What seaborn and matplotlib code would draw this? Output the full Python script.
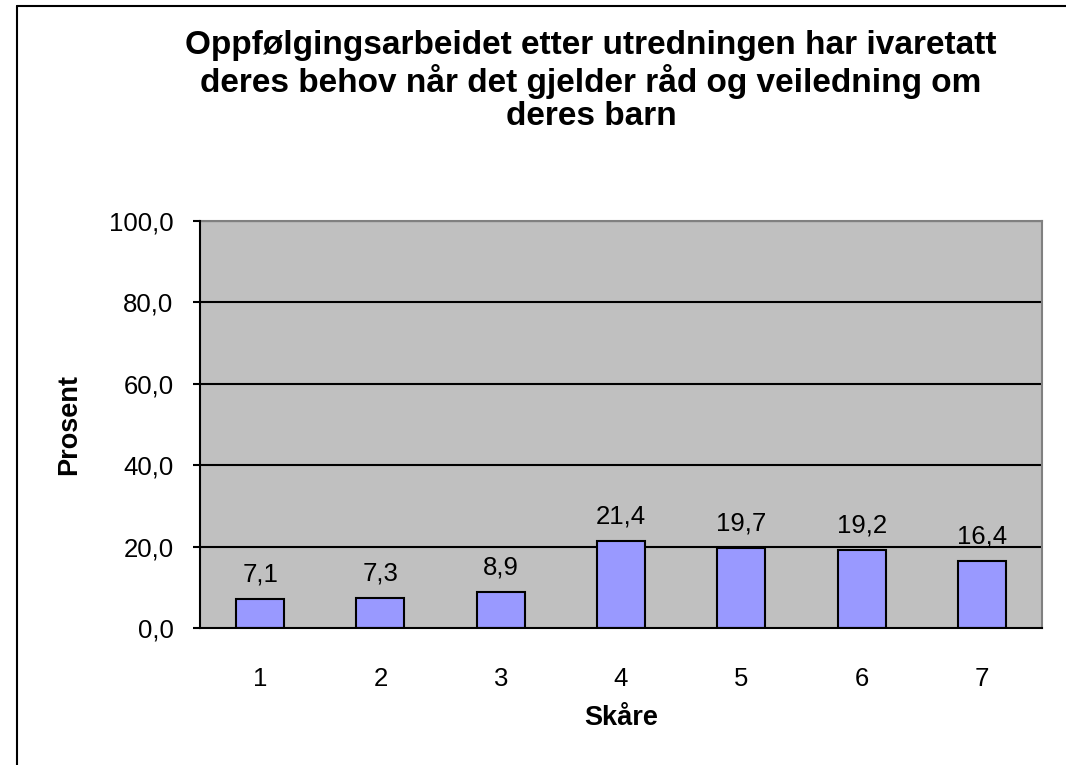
"""
Bar chart: Oppfølgingsarbeidet etter utredningen (Skåre vs Prosent)
"""

import matplotlib
matplotlib.use('Agg')
import matplotlib.pyplot as plt
import seaborn as sns
from matplotlib.lines import Line2D

# Data
categories = ['1', '2', '3', '4', '5', '6', '7']
values = [7.1, 7.3, 8.9, 21.4, 19.7, 19.2, 16.4]
y_ticks = [0, 20, 40, 60, 80, 100]

title = ('Oppfølgingsarbeidet etter utredningen har ivaretatt\n'
         'deres behov når det gjelder råd og veiledning om\n'
         'deres barn')

sns.set_style('white')
plt.rcParams['font.family'] = ['Liberation Sans', 'DejaVu Sans']
plt.rcParams['text.color'] = 'black'
plt.rcParams['axes.labelcolor'] = 'black'
plt.rcParams['xtick.color'] = 'black'
plt.rcParams['ytick.color'] = 'black'

TICK_FS = 18.5
LABEL_FS = 19.5

fig = plt.figure(figsize=(10.66, 7.65), dpi=100)
ax = fig.add_axes([200 / 1066, 1 - 628 / 765, (1042 - 200) / 1066, (628 - 221) / 765])
ax.set_facecolor('#C0C0C0')

sns.barplot(x=categories, y=values, color='#9999FF', saturation=1,
            edgecolor='black', linewidth=1.5, width=0.4, ax=ax, zorder=3)

# gridlines
for t in y_ticks[1:]:
    ax.axhline(t, color='black', linewidth=1.5, zorder=1)

ax.set_ylim(0, 100)
ax.set_xlim(-0.5, len(categories) - 0.5)
ax.set_yticks(y_ticks)
ax.set_yticklabels([f'{v:.1f}'.replace('.', ',') for v in y_ticks], fontsize=TICK_FS)

# x ticks at category boundaries
ax.set_xticks(range(len(categories)))
ax.set_xticklabels(categories, fontsize=TICK_FS)
ax.set_xticks([i - 0.5 for i in range(len(categories) + 1)], minor=True)
ax.tick_params(axis='x', which='major', length=0, pad=28)
ax.tick_params(axis='x', which='minor', length=5, width=1.5, color='black', direction='out')
ax.tick_params(axis='y', which='major', length=5, width=1.5, color='black', direction='out',
               pad=14, left=True)

for side in ['left', 'bottom']:
    ax.spines[side].set_color('black')
    ax.spines[side].set_linewidth(1.5)
    ax.spines[side].set_zorder(4)
for side in ['top', 'right']:
    ax.spines[side].set_visible(True)
    ax.spines[side].set_color('#808080')
    ax.spines[side].set_linewidth(1.5)

# value labels
for i, v in enumerate(values):
    ax.annotate(f'{v:.1f}'.replace('.', ','), (i, v), xytext=(0, 9),
                textcoords='offset points', ha='center', va='bottom', fontsize=TICK_FS)

ax.set_xlabel('Skåre', fontsize=LABEL_FS, fontweight='bold', labelpad=10)
ax.set_ylabel('Prosent', fontsize=LABEL_FS, fontweight='bold', labelpad=19)

fig.text(591 / 1066, 1 - 81 / 765, title, ha='center', va='center',
         fontsize=24, fontweight='bold', linespacing=1.1)

# outer frame (left and top visible)
fig.add_artist(Line2D([17 / 1066, 17 / 1066], [0, 1 - 6 / 765], color='black', linewidth=1.5,
                      transform=fig.transFigure))
fig.add_artist(Line2D([17 / 1066, 1], [1 - 6 / 765, 1 - 6 / 765], color='black', linewidth=1.5,
                      transform=fig.transFigure))

fig.savefig('out.png', dpi=100)
